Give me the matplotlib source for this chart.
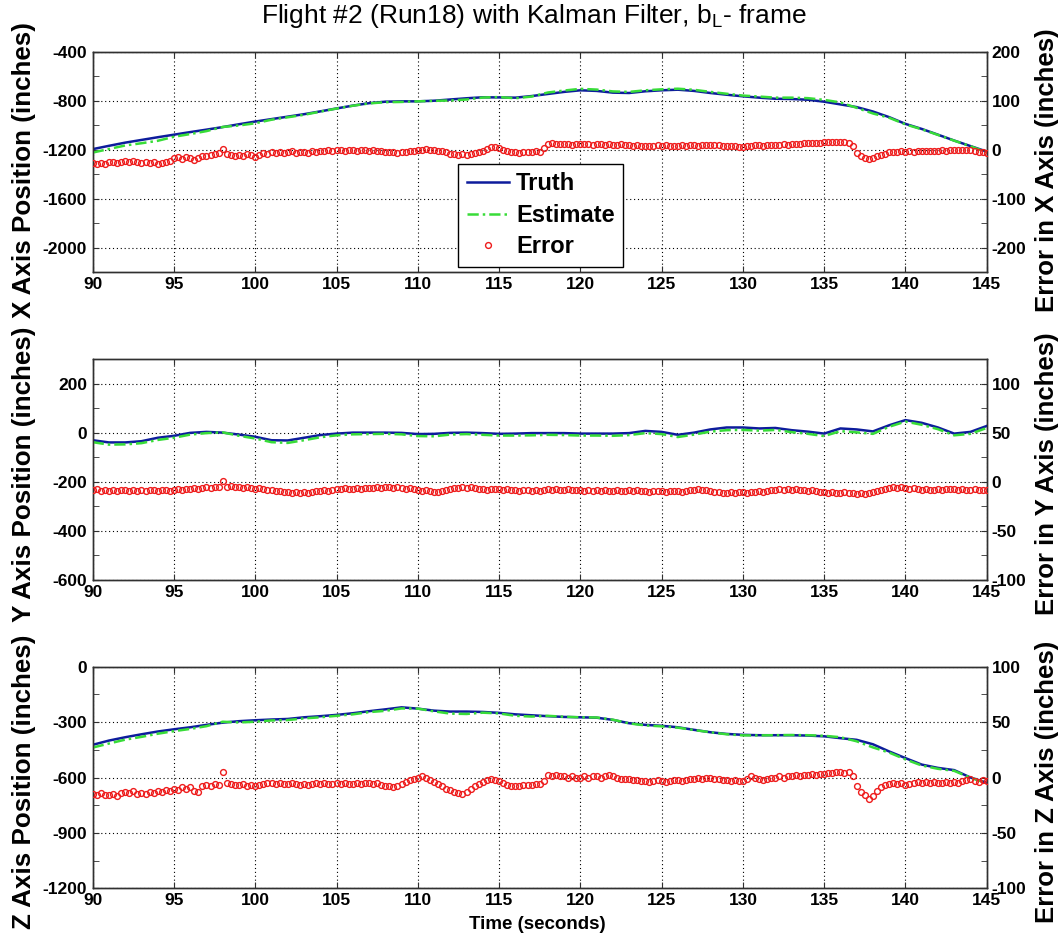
import numpy as np
import matplotlib
matplotlib.use("Agg")
import matplotlib.pyplot as plt
from matplotlib.ticker import MultipleLocator, FixedLocator

plt.rcParams['font.family'] = ['Liberation Sans', 'DejaVu Sans']
plt.rcParams['axes.unicode_minus'] = False

# ---- time bases -------------------------------------------------------
t_truth = np.arange(90, 146, 1.0)          # truth / estimate, 1 s
t_err = np.arange(0, 221) * 0.25 + 90.0    # error samples, 0.25 s

# ---- truth trajectories (inches) -------------------------------------
truth_x = [-1195, -1168, -1142, -1120, -1098, -1077, -1056, -1036, -1015, -992,
           -970, -950, -930, -910, -887, -863, -840, -820, -808, -805,
           -805, -800, -790, -780, -772, -773, -775, -762, -745, -728,
           -715, -720, -734, -737, -723, -715, -710, -720, -737, -751,
           -764, -775, -784, -786, -792, -808, -830, -852, -888, -934,
           -989, -1030, -1077, -1125, -1170, -1215]
truth_y = [-30, -39, -39, -34, -20, -12, 0, 4, 1, -7,
           -16, -30, -31, -20, -9, -3, 1, 1, 1, 0,
           -5, -4, 0, 1, -1, -4, -3, -1, -1, -1,
           -3, -3, -3, -1, 8, 4, -8, 1, 14, 22,
           22, 18, 20, 11, 5, -3, 18, 14, 6, 31,
           52, 41, 22, -3, 4, 28]
truth_z = [-423, -400, -382, -366, -351, -339, -328, -315, -303, -295,
           -290, -286, -283, -274, -268, -261, -252, -241, -231, -220,
           -227, -238, -243, -243, -245, -250, -258, -263, -268, -272,
           -274, -276, -288, -306, -315, -320, -328, -342, -355, -364,
           -369, -371, -371, -371, -373, -377, -387, -396, -420, -459,
           -495, -530, -548, -560, -600, -628]

# ---- filter error, estimate minus truth (inches) ---------------------
err_x = [-28, -30, -27, -29, -26, -24, -27, -25, -23, -26, -22, -25, -27, -25, -28, -26, -29, -27, -24, -22,
         -17, -15, -18, -14, -16, -20, -17, -13, -12, -10, -8, -6, 1, -8, -11, -12, -10, -12, -9, -11,
         -14, -10, -7, -8, -5, -6, -4, -7, -5, -3, -6, -4, -5, -6, -3, -4, -2, -3, -1, -2,
         -1, 0, -2, -1, -1, -2, 0, -1, -2, -1, -3, -2, -4, -5, -4, -6, -5, -4, -3, -2,
         0, 0, 1, 0, -1, -2, -3, -5, -8, -9, -10, -9, -10, -9, -7, -5, -2, 2, 5, 6,
         3, 0, -3, -5, -5, -6, -5, -4, -4, -3, -5, 4, 12, 13, 11, 12, 11, 12, 10, 11,
         12, 11, 12, 10, 11, 12, 10, 11, 10, 9, 11, 10, 9, 8, 9, 8, 8, 7, 8, 9,
         8, 9, 8, 7, 8, 9, 8, 9, 9, 8, 10, 9, 9, 10, 9, 8, 8, 7, 7, 6,
         6, 7, 8, 9, 9, 8, 10, 9, 9, 10, 11, 10, 11, 12, 12, 13, 13, 14, 13, 14,
         15, 15, 16, 15, 16, 15, 14, 8, -6, -12, -17, -19, -16, -13, -10, -8, -5, -5, -4, -3,
         -4, -3, -4, -2, -3, -2, -3, -2, -2, -1, -2, -1, -1, 0, -1, 0, -1, -2, -4, -5,
         -6]
err_y = [-8, -7, -9, -8, -9, -8, -9, -8, -8, -9, -8, -9, -8, -9, -8, -8, -9, -8, -8, -9,
         -8, -7, -8, -7, -7, -6, -7, -6, -5, -6, -5, -5, 1, -5, -4, -5, -5, -6, -5, -6,
         -7, -6, -7, -8, -8, -9, -9, -10, -10, -11, -10, -11, -10, -11, -10, -9, -9, -8, -9, -8,
         -7, -7, -6, -7, -7, -6, -7, -6, -6, -6, -5, -6, -5, -5, -6, -5, -6, -7, -6, -7,
         -8, -9, -8, -9, -10, -10, -9, -8, -7, -6, -6, -5, -6, -5, -6, -7, -7, -8, -7, -7,
         -7, -8, -7, -8, -8, -9, -8, -8, -9, -8, -9, -8, -7, -8, -7, -8, -8, -7, -8, -8,
         -8, -9, -8, -9, -8, -9, -8, -9, -9, -8, -9, -9, -8, -9, -8, -9, -9, -10, -9, -9,
         -9, -10, -9, -9, -9, -10, -9, -8, -8, -7, -8, -8, -9, -10, -10, -11, -11, -10, -11, -10,
         -10, -11, -10, -10, -9, -10, -9, -8, -8, -7, -8, -7, -8, -7, -8, -8, -9, -8, -9, -10,
         -10, -11, -10, -11, -11, -10, -11, -11, -12, -11, -12, -11, -10, -9, -8, -7, -6, -5, -6, -5,
         -6, -7, -6, -7, -8, -7, -8, -8, -7, -8, -7, -7, -7, -8, -7, -8, -8, -7, -8, -8,
         -8]
err_z = [-15, -16, -14, -16, -16, -15, -17, -14, -13, -14, -12, -15, -14, -15, -13, -14, -12, -13, -11, -12,
         -10, -11, -9, -10, -9, -12, -13, -8, -7, -8, -6, -7, 5, -5, -6, -7, -7, -6, -8, -7,
         -8, -7, -6, -5, -5, -6, -5, -6, -6, -5, -6, -7, -6, -7, -6, -5, -6, -5, -6, -6,
         -5, -6, -5, -6, -6, -5, -6, -5, -5, -6, -5, -7, -8, -8, -9, -8, -6, -4, -2, -1,
         0, 1, 0, -2, -4, -6, -8, -10, -11, -13, -14, -15, -13, -10, -8, -6, -4, -2, -1, -2,
         -3, -5, -7, -8, -8, -8, -7, -7, -7, -6, -6, -3, 2, 1, 2, 1, 1, 0, 1, 0,
         0, 1, 0, 1, 1, 0, 1, 2, 1, 0, -1, -1, -1, -2, -2, -3, -3, -4, -3, -2,
         -3, -4, -3, -2, -2, -3, -2, -1, -1, 0, -1, 0, 0, -1, -1, -2, -2, -3, -2, -3,
         -3, -1, 1, 0, -1, -2, -1, 0, 0, 1, 0, 1, 1, 2, 1, 2, 2, 3, 2, 3,
         3, 4, 4, 5, 5, 4, 5, 1, -8, -13, -16, -19, -17, -12, -9, -7, -6, -5, -6, -5,
         -7, -6, -5, -4, -5, -4, -5, -4, -5, -5, -4, -5, -4, -5, -3, -2, -1, -3, -4, -2,
         -3]

# ---- axis setup per panel --------------------------------------------
x_ticks = [90, 95, 100, 105, 110, 115, 120, 125, 130, 135, 140, 145]
axis_names = ['X', 'Y', 'Z']
left_lims = [(-2200, -400), (-600, 300), (-1200, 0)]
left_ticks = [[-2000, -1600, -1200, -800, -400],
              [-600, -400, -200, 0, 200],
              [-1200, -900, -600, -300, 0]]
right_lims = [(-250, 200), (-100, 125), (-100, 100)]
right_ticks = [[-200, -100, 0, 100, 200],
               [-100, -50, 0, 50, 100],
               [-100, -50, 0, 50, 100]]

truths = [truth_x, truth_y, truth_z]
errors = [err_x, err_y, err_z]

W, H = 1062, 938
ax_left, ax_right = 92.7, 986.7
panel_px = [(51.7, 272.3), (359.3, 580.0), (666.7, 888.3)]  # (top, bottom)
label_y = [0.465, 0.48, 0.48]

c_truth = '#0d1c9c'
c_est = '#38dc38'
c_err = '#ee1c1c'
spine_col = '#303030'
tick_font = dict(size=12.5, weight='bold')

fig = plt.figure(figsize=(W / 100, H / 100), dpi=100)

for i in range(3):
    top, bot = panel_px[i]
    rect = [ax_left / W, 1 - bot / H, (ax_right - ax_left) / W, (bot - top) / H]
    ax = fig.add_axes(rect)
    ax2 = ax.twinx()

    truth = np.array(truths[i], dtype=float)
    err = np.array(errors[i], dtype=float)
    # estimate = truth + error, sampled on the truth time base
    estimate = truth + err[::4]

    h1, = ax.plot(t_truth, truth, color=c_truth, lw=1.8, label='Truth', zorder=3)
    h2, = ax.plot(t_truth, estimate, color=c_est, lw=1.8,
                  ls=(0, (4.5, 1.6, 1.0, 1.6)), label='Estimate', zorder=4)
    h3, = ax2.plot(t_err, err, 'o', mfc='none', mec=c_err, ms=4.2, mew=1.0,
                   label='Error', zorder=3)

    ax.set_xlim(90, 145)
    ax.set_ylim(*left_lims[i])
    ax2.set_ylim(*right_lims[i])
    ax.xaxis.set_major_locator(FixedLocator(x_ticks))
    ax.yaxis.set_major_locator(FixedLocator(left_ticks[i]))
    lstep = left_ticks[i][1] - left_ticks[i][0]
    ax.yaxis.set_minor_locator(MultipleLocator(lstep / 2))
    ax2.yaxis.set_major_locator(FixedLocator(right_ticks[i]))
    rstep = right_ticks[i][1] - right_ticks[i][0]
    ax2.yaxis.set_minor_locator(MultipleLocator(rstep / 2))

    ax.grid(True, which='major', ls=(0, (1, 2.5)), color='black', lw=0.8)
    ax.set_axisbelow(True)

    ax.tick_params(axis='x', which='both', direction='in', top=True, length=4,
                   pad=3.5, colors=spine_col, labelcolor='black')
    ax.tick_params(axis='y', which='both', direction='in', right=False, length=4,
                   pad=4, colors=spine_col, labelcolor='black')
    ax2.tick_params(axis='y', which='both', direction='in', left=False, length=4,
                    pad=3.5, colors=spine_col, labelcolor='black')
    for a in (ax, ax2):
        for lab in a.get_xticklabels() + a.get_yticklabels():
            lab.set_fontsize(tick_font['size'])
            lab.set_fontweight(tick_font['weight'])
        for sp in a.spines.values():
            sp.set_color(spine_col)
            sp.set_linewidth(1.0)

    ax.set_ylabel(f'{axis_names[i]} Axis Position (inches)', fontsize=18.7,
                  fontweight='bold', va='center')
    ax.yaxis.set_label_coords(-0.0768, label_y[i])
    ax2.set_ylabel(f'Error in {axis_names[i]} Axis (inches)', fontsize=18.5,
                   fontweight='bold', va='center', rotation=90)
    ax2.yaxis.set_label_coords((1047 - ax_left) / (ax_right - ax_left), label_y[i])

    if i == 0:
        leg = ax2.legend(handles=[h1, h2, h3], loc='lower left',
                         bbox_to_anchor=((458.3 - ax_left) / (ax_right - ax_left),
                                         (bot - 266.7) / (bot - top)),
                         borderaxespad=0, borderpad=0.35, handlelength=1.8,
                         handletextpad=0.3, labelspacing=0.36, numpoints=1,
                         fancybox=False, framealpha=1, edgecolor='black',
                         prop=dict(size=17, weight='bold'))
        leg.get_frame().set_linewidth(1.0)
    if i == 2:
        ax.set_xlabel('Time (seconds)', fontsize=13.5, fontweight='bold', va='center')
        ax.xaxis.set_label_coords((537 - ax_left) / (ax_right - ax_left),
                                  (bot - 924) / (bot - top))

fig.text(533.5 / W, 1 - 16 / H,
         r'Flight #2 (Run18) with Kalman Filter, b$_\mathregular{L}$- frame',
         ha='center', va='center', fontsize=19)

fig.savefig('out.png', dpi=100)
